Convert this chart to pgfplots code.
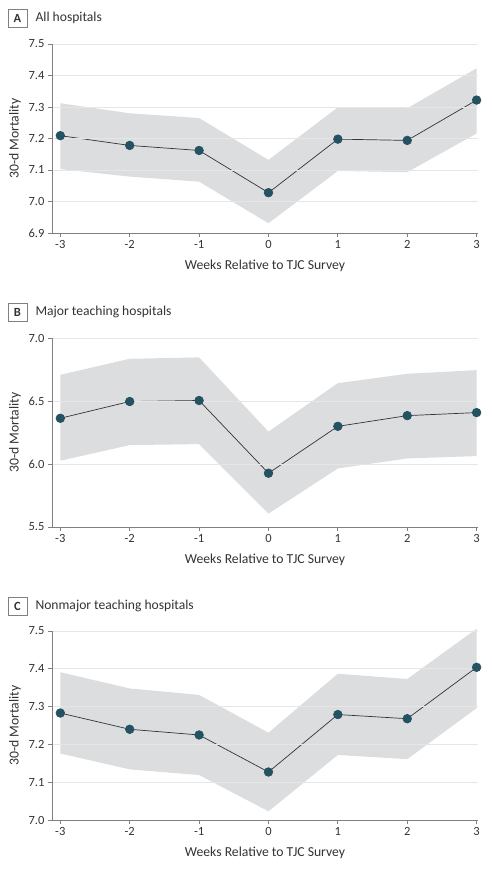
\documentclass[border=0pt]{standalone}
\usepackage{fontspec}
\setmainfont{Carlito}
\usepackage{pgfplots}
\pgfplotsset{compat=1.18}
\definecolor{band}{HTML}{DCDDDF}
\definecolor{gridc}{HTML}{E6E6E6}
\definecolor{axc}{HTML}{808080}
\definecolor{mk}{HTML}{245262}
\definecolor{txt}{HTML}{333333}

\pgfplotsset{
  panel/.style={
    scale only axis, width=426pt, height=189pt,
    xmin=-3.12, xmax=3.02,
    xtick={-3,-2,-1,0,1,2,3},
    xticklabels={-3,-2,-1,0,1,2,3},
    axis x line*=bottom, axis y line*=left,
    axis line style={axc, line width=0.8pt},
    tick style={axc, line width=0.8pt},
    tick align=outside, major tick length=4pt,
    ymajorgrids, grid style={gridc, line width=0.8pt},
    axis on top,
    tick label style={font=\fontsize{12.5}{14}\selectfont, text=txt},
    /pgf/number format/assume math mode=true,
    /pgf/number format/.cd, fixed, fixed zerofill, precision=1, /pgfplots/.cd,
    xlabel={Weeks Relative to TJC Survey},
    ylabel={30-d Mortality},
    every axis y label/.style={at={(axis description cs:-0.0869,0.5)}, rotate=90, anchor=center, font=\fontsize{13.7}{15}\selectfont, text=txt},
    every axis x label/.style={at={(axis description cs:0.5,-0.174)}, anchor=center, font=\fontsize{13.7}{15}\selectfont, text=txt},
    clip=false,
  },
  ptline/.style={black!80, line width=0.7pt, mark=*, mark size=4.3pt, mark options={fill=mk, draw=mk}},
}

\newcommand{\paneltitle}[3]{%
  \node[draw=axc, line width=0.8pt, minimum width=19pt, minimum height=18pt, inner sep=0pt,
        font=\fontsize{12.5}{14}\selectfont\bfseries, text=txt] at (#1pt,#2pt) {#3};}

\begin{document}
\begin{tikzpicture}
\useasboundingbox (0pt,0pt) rectangle (491pt,-870pt);

% ---------------- Panel A
\begin{axis}[panel, at={(52pt,-233pt)}, anchor=south west,
  ymin=6.9, ymax=7.5, ytick={6.9,7.0,7.1,7.2,7.3,7.4,7.5}]
\addplot[draw=none, fill=band] coordinates {
 (-3,7.312) (-2,7.280) (-1,7.265) (0,7.132) (1,7.299) (2,7.296) (3,7.423)
 (3,7.216) (2,7.093) (1,7.097) (0,6.931) (-1,7.063) (-2,7.079) (-3,7.103)} -- cycle;
\addplot[ptline] coordinates {
 (-3,7.209) (-2,7.178) (-1,7.162) (0,7.028) (1,7.198) (2,7.194) (3,7.322)};
\end{axis}
\paneltitle{17.5}{-18}{A}
\node[anchor=west, font=\fontsize{13.6}{15}\selectfont, text=txt] at (32pt,-18pt) {All hospitals};

% ---------------- Panel B
\begin{axis}[panel, at={(52pt,-527pt)}, anchor=south west,
  ymin=5.5, ymax=7.0, ytick={5.5,6.0,6.5,7.0}]
\addplot[draw=none, fill=band] coordinates {
 (-3,6.708) (-2,6.835) (-1,6.846) (0,6.257) (1,6.642) (2,6.716) (3,6.745)
 (3,6.063) (2,6.044) (1,5.965) (0,5.606) (-1,6.158) (-2,6.150) (-3,6.026)} -- cycle;
\addplot[ptline] coordinates {
 (-3,6.363) (-2,6.496) (-1,6.504) (0,5.927) (1,6.299) (2,6.384) (3,6.408)};
\end{axis}
\paneltitle{17.5}{-312}{B}
\node[anchor=west, font=\fontsize{13.6}{15}\selectfont, text=txt] at (32pt,-312pt) {Major teaching hospitals};

% ---------------- Panel C
\begin{axis}[panel, at={(52pt,-820pt)}, anchor=south west,
  ymin=7.0, ymax=7.5, ytick={7.0,7.1,7.2,7.3,7.4,7.5}]
\addplot[draw=none, fill=band] coordinates {
 (-3,7.391) (-2,7.348) (-1,7.331) (0,7.231) (1,7.387) (2,7.373) (3,7.506)
 (3,7.296) (2,7.161) (1,7.172) (0,7.023) (-1,7.119) (-2,7.134) (-3,7.176)} -- cycle;
\addplot[ptline] coordinates {
 (-3,7.283) (-2,7.240) (-1,7.225) (0,7.127) (1,7.279) (2,7.268) (3,7.404)};
\end{axis}
\paneltitle{17.5}{-606}{C}
\node[anchor=west, font=\fontsize{13.6}{15}\selectfont, text=txt] at (32pt,-606pt) {Nonmajor teaching hospitals};
\end{tikzpicture}
\end{document}
